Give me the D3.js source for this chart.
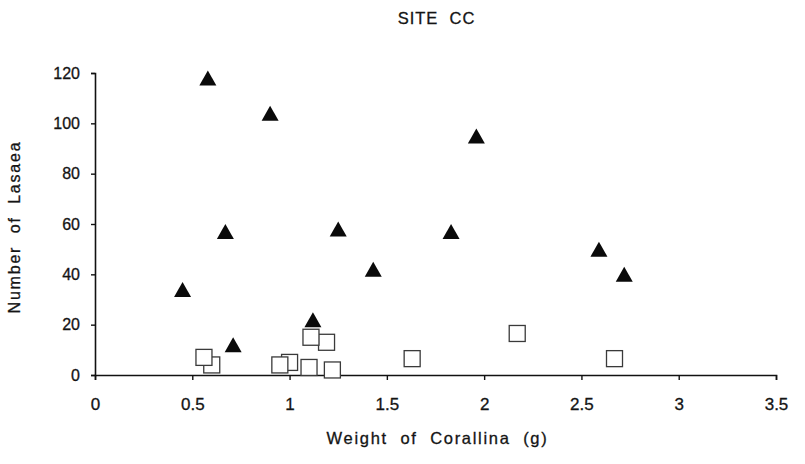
<!DOCTYPE html>
<html>
<head>
<meta charset="utf-8">
<script src="https://cdn.jsdelivr.net/npm/d3@7"></script>
<style>
  html, body { margin: 0; padding: 0; background: #fff; }
  svg { display: block; }
  text {
    font-family: "Liberation Sans", Arial, Helvetica, sans-serif;
    fill: #141414;
    stroke: #141414;
    stroke-width: 0.3px;
    white-space: pre;
  }
</style>
</head>
<body>
<svg id="chart" width="805" height="464"></svg>
<script>
// Lasaea counts against Corallina weight, site CC
const titleText = "SITE  CC";
const xLabel = "Weight  of  Corallina  (g)";
const yLabel = "Number  of  Lasaea";

const xTicks = [0, 0.5, 1, 1.5, 2, 2.5, 3, 3.5];
const yTicks = [0, 20, 40, 60, 80, 100, 120];

// filled triangles
const triWeight = [0.45, 0.58, 0.67, 0.71, 0.90, 1.12, 1.25, 1.43, 1.83, 1.96, 2.59, 2.72];
const triCount  = [34, 118, 57, 12, 104, 22, 58, 42, 57, 95, 50, 40];

// open squares
const sqWeight = [0.56, 0.60, 0.95, 1.00, 1.10, 1.11, 1.19, 1.22, 1.63, 2.17, 2.67];
const sqCount  = [7, 4, 4, 5, 3, 15, 13, 2, 6.5, 16.5, 6.5];

const svg = d3.select("#chart");
const plotLeft = 95, plotRight = 776, plotTop = 73, plotBottom = 375;

const x = d3.scaleLinear().domain([0, 3.5]).range([plotLeft, plotRight]);
const y = d3.scaleLinear().domain([0, 120]).range([plotBottom, plotTop]);

// title
svg.append("text")
  .attr("x", (plotLeft + plotRight) / 2 + 1)
  .attr("y", 24)
  .attr("text-anchor", "middle")
  .style("font-size", "16.5px")
  .style("letter-spacing", "1px")
  .text(titleText);

// x axis
const gx = svg.append("g")
  .attr("transform", `translate(0,${plotBottom})`)
  .call(d3.axisBottom(x).tickValues(xTicks).tickSize(5).tickPadding(18)
    .tickFormat(d => String(d)));
gx.select(".domain").attr("stroke", "#111").attr("stroke-width", 1.6);
gx.selectAll(".tick line").attr("stroke", "#111").attr("stroke-width", 1.4);
gx.selectAll(".tick text")
  .style("font-size", "17px")
  .style("font-family", '"Liberation Sans", Arial, sans-serif')
  .attr("fill", "#141414");

// y axis
const gy = svg.append("g")
  .attr("transform", `translate(${plotLeft},0)`)
  .call(d3.axisLeft(y).tickValues(yTicks).tickSize(4).tickPadding(11));
gy.select(".domain").attr("stroke", "#111").attr("stroke-width", 1.6);
gy.selectAll(".tick line").attr("stroke", "#111").attr("stroke-width", 1.4);
gy.selectAll(".tick text")
  .style("font-size", "16px")
  .style("font-family", '"Liberation Sans", Arial, sans-serif')
  .attr("fill", "#141414");

// axis titles
svg.append("text")
  .attr("x", (plotLeft + plotRight) / 2 + 2)
  .attr("y", 444)
  .attr("text-anchor", "middle")
  .style("font-size", "16.5px")
  .style("letter-spacing", "1.7px")
  .text(xLabel);

svg.append("text")
  .attr("transform", `translate(20,${(plotTop + plotBottom) / 2 + 3}) rotate(-90)`)
  .attr("text-anchor", "middle")
  .style("font-size", "16px")
  .style("letter-spacing", "1.8px")
  .text(yLabel);

// squares: drawn right to left so the left box of an overlapping pair sits in front
const sqData = sqWeight.map((w, i) => ({ w, c: sqCount[i] }))
  .sort((a, b) => b.w - a.w);
const sq = 16;
svg.append("g").selectAll("rect")
  .data(sqData)
  .join("rect")
  .attr("x", d => x(d.w) - sq / 2)
  .attr("y", d => y(d.c) - sq / 2)
  .attr("width", sq)
  .attr("height", sq)
  .attr("fill", "#fff")
  .attr("stroke", "#3a3a3a")
  .attr("stroke-width", 1.3);

// triangles centred on their bounding box
const tw = 17, th = 15;
const triPath = `M0,${-th / 2}L${tw / 2},${th / 2}L${-tw / 2},${th / 2}Z`;
svg.append("g").selectAll("path")
  .data(triWeight.map((w, i) => ({ w, c: triCount[i] })))
  .join("path")
  .attr("d", triPath)
  .attr("transform", d => `translate(${x(d.w)},${y(d.c)})`)
  .attr("fill", "#0a0a0a");
</script>
</body>
</html>
